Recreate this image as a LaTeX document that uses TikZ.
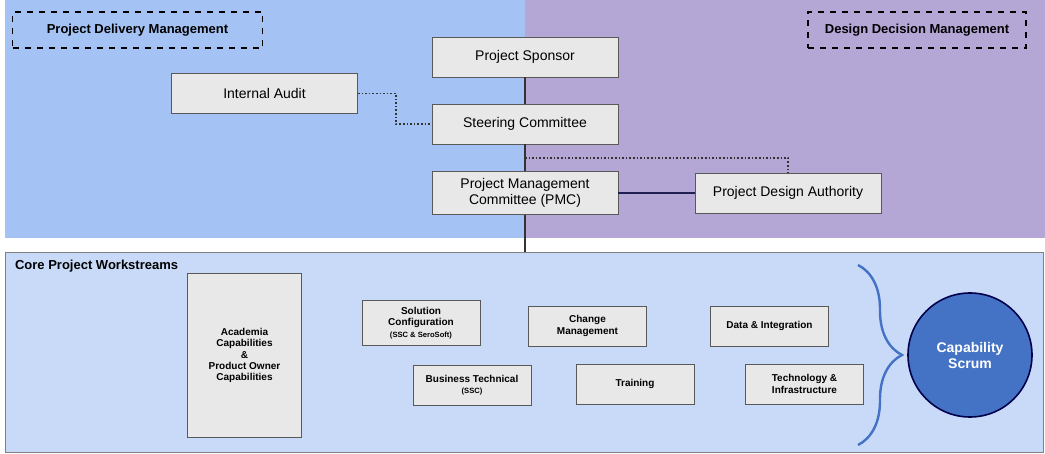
\documentclass[tikz,border=0pt]{standalone}
\usepackage{fontspec}
\setmainfont{Liberation Sans}
\usetikzlibrary{positioning, calc, decorations.pathreplacing}
\definecolor{leftpanel}{HTML}{A4C2F4}
\definecolor{rightpanel}{HTML}{B4A7D6}
\definecolor{lowpanel}{HTML}{C9DAF8}
\definecolor{boxfill}{HTML}{E8E8E8}
\definecolor{scrum}{HTML}{4472C4}
\tikzstyle{role} = [rectangle, draw=gray!70!black, fill=boxfill, minimum width=93pt, minimum height=20pt, text centered, align=center, font=\fontsize{7}{8}\selectfont]
\tikzstyle{stream} = [rectangle, draw=gray!70!black, fill=boxfill, minimum width=59pt, minimum height=20pt, text centered, align=center, font=\fontsize{5}{5.6}\selectfont\bfseries]
\tikzstyle{tag} = [rectangle, draw=black, thick, dashed, minimum height=18pt, font=\fontsize{6.5}{7}\selectfont\bfseries]
\tikzstyle{link} = [densely dotted, thick, gray!40!black]

\begin{document}
\begin{tikzpicture}[x=0.5pt, y=-0.5pt]

\useasboundingbox (0,0) rectangle (1045,454);
\fill[leftpanel] (5,0) rectangle (525,238);
\fill[rightpanel] (525,0) rectangle (1045,238);
\draw[gray, fill=lowpanel] (5,252) rectangle (1043,452);

\node (pdm) [tag, minimum width=125pt] at (137.5,30) {Project Delivery Management};
\node (ddm) [tag, minimum width=109pt] at (917,30) {Design Decision Management};

\node (sponsor) [role] at (525,57) {Project Sponsor};
\node (steering) [role] at (525,124) {Steering Committee};
\node (pmc) [role] at (525,193) {Project Management\\Committee (PMC)};
\node (audit) [role] at (264.5,93.5) {Internal Audit};
\node (pda) [role] at (788,193) {Project Design Authority};
\coordinate (split) at (525,158);
\coordinate (core) at (525,252);

\draw[thick, gray!40!black] (sponsor) -- (steering);
\draw[thick, gray!40!black] (steering) -- (pmc);
\draw[thick, gray!40!black] (pmc) -- (core);
\draw[link] (audit.east) -| (396,124) -- (steering.west);
\draw[link] (split) -| (pda.north);
\draw[thick, gray!30!black!80!blue] (pmc) -- (pda);

\node [anchor=west, font=\fontsize{6.5}{7}\selectfont\bfseries] at (8,266) {Core Project Workstreams};

\node (academia) [stream, minimum width=57pt, minimum height=82pt] at (244.5,355.5) {Academia\\Capabilities\\\&\\Product Owner\\Capabilities};
\node (solution) [stream] at (421,323) {Solution\\Configuration\\{\fontsize{3.8}{4.5}\selectfont (SSC \& SeroSoft)}};
\node (change) [stream] at (587.5,326) {Change\\Management};
\node (data) [stream] at (769.5,326) {Data \& Integration};
\node (business) [stream] at (472,385) {Business Technical\\{\fontsize{3.8}{4.5}\selectfont (SSC)}};
\node (training) [stream] at (635,384) {Training};
\node (tech) [stream] at (804.5,384) {Technology \&\\Infrastructure};

\draw[scrum, very thick, decorate, decoration={brace, amplitude=22pt}] (858,265) -- (858,445);
\node (capability) [circle, draw=black!70!blue, thick, fill=scrum, minimum size=62pt, text=white, align=center, font=\fontsize{7}{8}\selectfont\bfseries] at (970,355) {Capability\\Scrum};

\end{tikzpicture}
\end{document}
